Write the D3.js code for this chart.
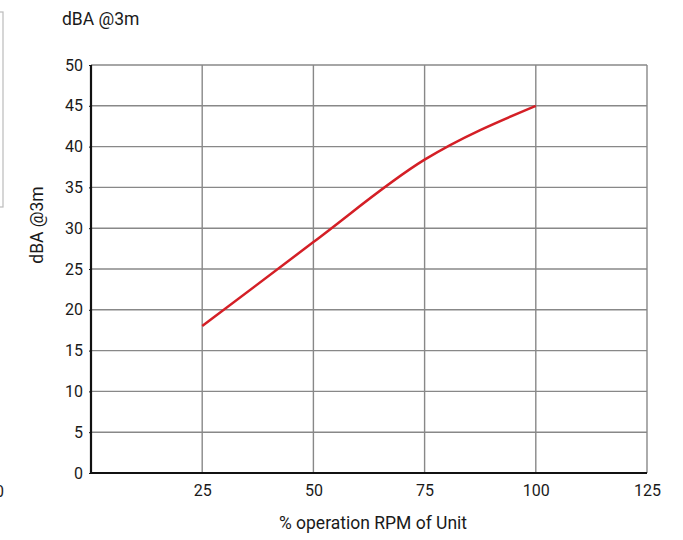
<!DOCTYPE html>
<html><head><meta charset="utf-8">
<script src="https://cdn.jsdelivr.net/npm/d3@7"></script>
<style>body{margin:0;background:#fff}svg{display:block;font-family:Roboto,"Noto Sans",sans-serif}</style>
</head><body><svg id="c" width="683" height="540"></svg>
<script>
const rpm = [25, 50, 75, 100];
const dba = [18, 28.3, 38.4, 45];
const xTicks = [25, 50, 75, 100, 125];
const yTicks = [0, 5, 10, 15, 20, 25, 30, 35, 40, 45, 50];
const title = "dBA @3m";
const xTitle = "% operation RPM of Unit";

const svg = d3.select("#c");
const m = {l: 91, r: 647, t: 65, b: 473};
const x = d3.scaleLinear().domain([0, 125]).range([m.l, m.r]);
const y = d3.scaleLinear().domain([0, 50]).range([m.b, m.t]);

// clipped legend-like box at left edge
svg.append("rect").attr("x", -20).attr("y", 12).attr("width", 23).attr("height", 195)
  .attr("fill", "none").attr("stroke", "#bbb").attr("stroke-width", 1.2);
svg.append("text").attr("x", -5).attr("y", 497).attr("font-size", 16).attr("fill", "#222").text("0");

// grid
svg.append("g").selectAll("line").data(yTicks.filter(d => d > 0)).join("line")
  .attr("x1", m.l).attr("x2", m.r).attr("y1", d => y(d)).attr("y2", d => y(d))
  .attr("stroke", "#888").attr("stroke-width", 1.4);
svg.append("g").selectAll("line").data(xTicks).join("line")
  .attr("x1", d => x(d)).attr("x2", d => x(d)).attr("y1", m.t).attr("y2", m.b)
  .attr("stroke", "#888").attr("stroke-width", 1.4);

// axes
const ya = svg.append("g").attr("transform", `translate(${m.l},0)`)
  .call(d3.axisLeft(y).tickValues(yTicks).tickSize(2).tickPadding(6));
const xa = svg.append("g").attr("transform", `translate(0,${m.b})`)
  .call(d3.axisBottom(x).tickValues(xTicks).tickSize(0).tickPadding(12));
[ya, xa].forEach(a => {
  a.select(".domain").attr("stroke", "#111").attr("stroke-width", 2.2);
  a.selectAll("text").attr("font-size", 16).attr("fill", "#1a1a1a").attr("font-family", "Roboto, sans-serif");
  a.selectAll(".tick line").attr("stroke", "#111");
});
ya.select(".domain").attr("d", `M0,${m.t}V${m.b}`);
xa.select(".domain").attr("d", `M${m.l},0H${m.r}`);

// line
svg.append("path").datum(rpm.map((r, i) => [r, dba[i]]))
  .attr("fill", "none").attr("stroke", "#d41f26").attr("stroke-width", 2.5)
  .attr("d", d3.line().x(d => x(d[0])).y(d => y(d[1])).curve(d3.curveMonotoneX));

// titles
svg.append("text").attr("x", 62).attr("y", 25).attr("font-size", 17.5).attr("fill", "#1a1a1a").text(title);
svg.append("text").attr("transform", "translate(43,225) rotate(-90)").attr("text-anchor", "middle")
  .attr("font-size", 17.5).attr("fill", "#1a1a1a").text(title);
svg.append("text").attr("x", 373).attr("y", 529).attr("text-anchor", "middle")
  .attr("font-size", 17.5).attr("fill", "#1a1a1a").text(xTitle);
</script></body></html>
